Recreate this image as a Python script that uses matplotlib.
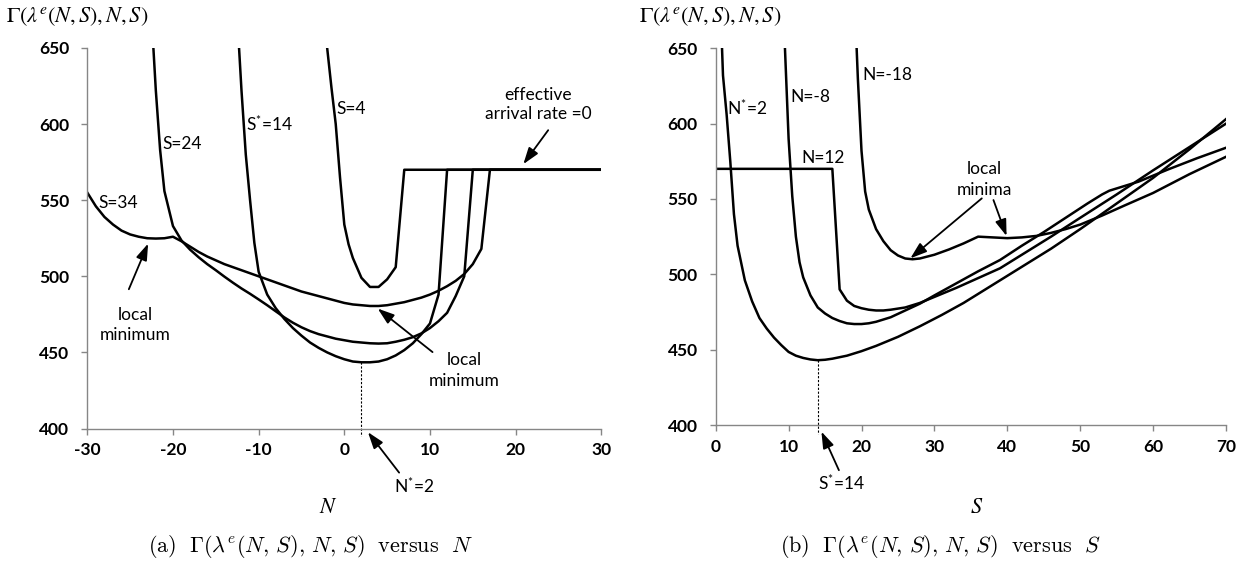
import numpy as np
import matplotlib.pyplot as plt

plt.rcParams['font.family'] = ['Lato', 'DejaVu Sans']
plt.rcParams['mathtext.fontset'] = 'custom'
plt.rcParams['mathtext.rm'] = 'Lato'
plt.rcParams['mathtext.it'] = 'Lato:italic'
plt.rcParams['mathtext.bf'] = 'Lato:bold'

# ---- panel (a): Gamma versus N, one curve per S ----
n_s4 = [-2.5, -2, -1.5, -1, -0.5, 0, 0.5, 1, 2, 3, 4, 5, 6, 7, 30]
g_s4 = [700, 650, 624, 600, 565, 534, 521, 512, 499, 493, 493, 498, 506, 570, 570]

n_s14 = [-13, -12, -11.5, -11, -10.5, -10, -9, -8, -7, -6, -5, -4, -3, -2, -1,
         0, 1, 2, 3, 4, 5, 6, 7, 8, 9, 10, 11, 12, 30]
g_s14 = [720, 622, 580, 550, 522, 503, 488, 479, 472, 466, 461, 456.5, 453, 450, 447.5,
         445.5, 444, 443.5, 443.5, 444, 445.5, 448, 451.5, 456, 462, 469, 488, 570, 570]

n_s24 = [-23, -22, -21.5, -21, -20, -19, -18, -17, -16, -15, -14, -13, -12, -11, -10,
         -9, -8, -7, -6, -5, -4, -3, -2, -1, 0, 1, 2, 3, 4, 5, 6, 7, 8, 9, 10,
         11, 12, 13, 14, 15, 30]
g_s24 = [720, 622, 583, 556, 533, 523.5, 517.5, 512.5, 508, 504, 499.8, 495.8, 492, 488.5, 484.8,
         481, 477, 473, 469.5, 466.5, 464, 462, 460.5, 459, 458, 457, 456.5, 456, 455.8, 456, 457, 458.3, 460, 462.5, 466,
         470.5, 476, 487, 500, 570, 570]

n_s34 = [-30, -29, -28, -27, -26, -25, -24, -23, -22, -21, -20, -19, -18, -17, -16,
         -15, -14, -13, -12, -11, -10, -9, -8, -7, -6, -5, -4, -3, -2, -1, 0,
         1, 2, 3, 4, 5, 6, 7, 8, 9, 10, 11, 12, 13, 14, 15, 16, 17, 30]
g_s34 = [555, 546, 539, 534, 530, 527.5, 526, 525, 524.8, 525, 526, 523, 519.5, 516, 513,
         510.5, 508, 506, 504, 502, 500, 498, 496, 494, 492, 490, 488.5, 487, 485.5, 484, 482.5,
         481.5, 481, 480.5, 480.5, 481, 482, 483, 484.5, 486, 488, 490.5, 493.5, 497, 501.5, 508, 518, 570, 570]

# ---- panel (b): Gamma versus S, one curve per N ----
s_n2 = [0.5, 1, 1.5, 2, 2.5, 3, 4, 5, 6, 7, 8, 9, 10, 11, 12, 13, 14, 15, 16, 18,
        20, 22, 25, 28, 31, 34, 37, 40, 43, 46, 50, 55, 60, 65, 70]
g_n2 = [700, 632, 606, 575, 540, 519, 496, 482, 471, 464, 458, 453, 448.5, 446, 444.5, 443.5, 443, 443.3, 444, 446,
        449, 452.5, 458.5, 465.5, 473, 481, 490, 499, 508, 517, 530, 547, 564, 583, 603]

s_nm8 = [9, 9.5, 10, 10.5, 11, 11.5, 12, 13, 14, 15, 16, 17, 18, 19, 20, 21, 22, 24, 26, 28,
         30, 33, 36, 39, 42, 45, 48, 51, 53, 54, 56, 58, 62, 66, 70]
g_nm8 = [720, 650, 590, 552, 525, 508, 498, 486, 478, 474, 471, 469, 467.5, 467, 467, 467.5, 468.5, 471.5, 476, 480.5,
         486, 494, 502, 509.5, 519, 528, 537.5, 547, 553, 555.5, 558.5, 561.5, 569.5, 577, 584]

s_n12 = [0, 16, 17, 18, 19, 20, 21, 22, 23, 24, 26, 28, 30, 33, 36, 39, 42, 46, 50, 55, 60, 65, 70]
g_n12 = [570, 570, 490, 482.5, 479, 477.5, 476.5, 476, 476, 476.5, 478, 481, 485, 491, 497.5, 504,
         513, 525, 537.5, 553, 569, 584.5, 600]

s_nm18 = [19, 19.5, 20, 20.5, 21, 22, 23, 24, 25, 26, 27, 28, 30, 32, 34, 36, 38, 40, 42, 44,
          46, 48, 50, 53, 56, 60, 65, 70]
g_nm18 = [690, 630, 582, 555, 543, 530, 522, 516, 512.5, 510.5, 510, 510.5, 513, 516.5, 520.5, 525, 524.5, 524, 524.5, 525.5,
          527.5, 530, 533, 539, 545.5, 554, 566.5, 578]

n_ticks = [-30, -20, -10, 0, 10, 20, 30]
s_ticks = [0, 10, 20, 30, 40, 50, 60, 70]
g_ticks = [400, 450, 500, 550, 600, 650]

W, H = 1252, 574
fig = plt.figure(figsize=(W / 100, H / 100), dpi=100)


def px_axes(x0, x1, ytop, ybot):
    return fig.add_axes([x0 / W, 1 - ybot / H, (x1 - x0) / W, (ybot - ytop) / H])


ax1 = px_axes(87.3, 601.3, 48, 428.5)
ax2 = px_axes(715.7, 1226, 48.3, 425)

axis_grey = '#868686'
for ax, ticks, xlim in ((ax1, n_ticks, (-30, 30)), (ax2, s_ticks, (0, 70))):
    for side in ('top', 'right'):
        ax.spines[side].set_visible(False)
    for side in ('left', 'bottom'):
        ax.spines[side].set_color(axis_grey)
        ax.spines[side].set_linewidth(1.0)
    ax.set_xlim(*xlim)
    ax.set_ylim(400, 650)
    ax.set_xticks(ticks, labels=[str(t) for t in ticks], fontweight='bold')
    ax.set_yticks(g_ticks, labels=[str(t) for t in g_ticks], fontweight='bold')
    ax.tick_params(direction='out', length=4, width=1, color=axis_grey, labelsize=12.5)
    ax.tick_params(axis='y', pad=9)
    ax.tick_params(axis='x', pad=6)

lw = 1.8
for n, g in ((n_s4, g_s4), (n_s14, g_s14), (n_s24, g_s24), (n_s34, g_s34)):
    ax1.plot(n, g, color='k', lw=lw)
for s, g in ((s_n2, g_n2), (s_nm8, g_nm8), (s_n12, g_n12), (s_nm18, g_nm18)):
    ax2.plot(s, g, color='k', lw=lw)

# dotted drop lines to the optimum
ax1.plot([2, 2], [443.5, 395], color='k', lw=0.8, ls=(0, (2, 1.5)), clip_on=False)
ax2.plot([14, 14], [443, 394], color='k', lw=0.8, ls=(0, (2, 1.5)), clip_on=False)

fs = 12.5
arrow = dict(arrowstyle='-|>,head_length=0.5,head_width=0.17', color='k', lw=1.3,
             shrinkA=0, shrinkB=0, mutation_scale=20)


def arrow_to(ax, head, tail):
    ax.annotate('', xy=head, xytext=tail, arrowprops=arrow, annotation_clip=False)


# panel (a) labels
ax1.text(-28.7, 548, 'S=34', fontsize=fs, va='center')
ax1.text(-21.2, 587, 'S=24', fontsize=fs, va='center')
ax1.text(-11.5, 600, r'S$^{*}$=14', fontsize=fs, va='center')
ax1.text(-0.9, 610, 'S=4', fontsize=fs, va='center')
ax1.text(22.6, 613, 'effective\narrival rate =0', fontsize=fs, ha='center', va='center',
         linespacing=1.25)
arrow_to(ax1, (20.9, 573.7), (23.8, 596))
ax1.text(-24.4, 468, 'local\nminimum', fontsize=fs, ha='center', va='center', linespacing=1.35)
arrow_to(ax1, (-22.9, 521.5), (-25.15, 491.5))
ax1.text(14.0, 438, 'local\nminimum', fontsize=fs, ha='center', va='center', linespacing=1.35)
arrow_to(ax1, (3.9, 478.8), (10.3, 450.2))
ax1.text(8.1, 362, r'N$^{*}$=2', fontsize=fs, ha='center', va='center', clip_on=False)
arrow_to(ax1, (2.76, 397.6), (6.4, 371))

# panel (b) labels
ax2.text(1.6, 610, r'N$^{*}$=2', fontsize=fs, va='center')
ax2.text(10.3, 617.6, 'N=-8', fontsize=fs, va='center')
ax2.text(11.7, 577, 'N=12', fontsize=fs, va='center')
ax2.text(20.1, 632.3, 'N=-18', fontsize=fs, va='center')
ax2.text(36.9, 563, 'local\nminima', fontsize=fs, ha='center', va='center', linespacing=1.35)
arrow_to(ax2, (26.7, 510.6), (36.5, 550.4))
arrow_to(ax2, (39.9, 525.4), (38.1, 549.3))
ax2.text(17.3, 361, r'S$^{*}$=14', fontsize=fs, ha='center', va='center', clip_on=False)
arrow_to(ax2, (14.5, 395.6), (16.9, 370))

# axis titles and captions
ylab = r'$\Gamma(\lambda^e(N,S),N,S)$'
fig.text(6 / W, 1 - 17 / H, ylab, math_fontfamily='stix', fontsize=16, va='center')
fig.text(639 / W, 1 - 17 / H, ylab, math_fontfamily='stix', fontsize=16, va='center')
fig.text(328 / W, 1 - 507 / H, r'$N$', math_fontfamily='stix', fontsize=16, ha='center', va='center')
fig.text(977 / W, 1 - 507 / H, r'$S$', math_fontfamily='stix', fontsize=16, ha='center', va='center')
fig.text(310 / W, 1 - 547 / H,
         r'$\mathrm{(a)}\ \ \Gamma(\lambda^e(N,\,S),\,N,\,S)\ \ \mathrm{versus}\ \ N$',
         math_fontfamily='cm', fontsize=16, ha='center', va='center')
fig.text(940 / W, 1 - 547 / H,
         r'$\mathrm{(b)}\ \ \Gamma(\lambda^e(N,\,S),\,N,\,S)\ \ \mathrm{versus}\ \ S$',
         math_fontfamily='cm', fontsize=16, ha='center', va='center')

fig.savefig('out.png', dpi=100)
